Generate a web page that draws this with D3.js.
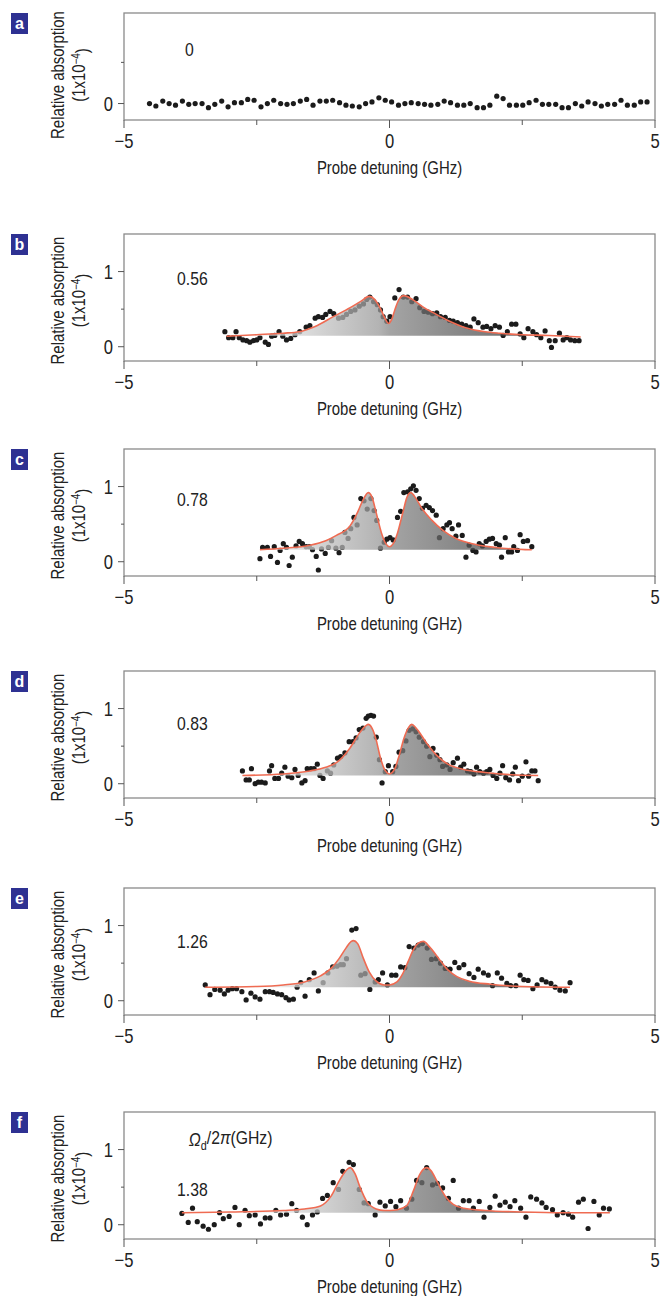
<!DOCTYPE html>
<html>
<head>
<meta charset="utf-8">
<script src="https://cdnjs.cloudflare.com/ajax/libs/d3/7.8.5/d3.min.js"></script>
<style>
  body { margin: 0; background: #fff; }
  svg { display: block; }
  text { font-family: "Liberation Sans", Arial, sans-serif; fill: #222; }
</style>
</head>
<body>
<div id="chart"></div>
<script>
// panel letters and drive Rabi frequencies (GHz)
const panelIds = ["a", "b", "c", "d", "e", "f"]
const rabiLabels = ["0", "0.56", "0.78", "0.83", "1.26", "1.38"]
const xTicks = [-5, -2.5, 0, 2.5, 5]
const xTickLabels = ["\u22125", "", "0", "", "5"]

// panel a: flat, no drive
const aDetuning = [-4.52, -4.40, -4.27, -4.15, -4.03, -3.90, -3.78, -3.66, -3.53, -3.41,
  -3.29, -3.16, -3.04, -2.92, -2.79, -2.67, -2.55, -2.42, -2.30, -2.18,
  -2.05, -1.93, -1.81, -1.68, -1.56, -1.44, -1.31, -1.19, -1.07, -0.94,
  -0.82, -0.70, -0.57, -0.45, -0.33, -0.20, -0.08, 0.04, 0.17, 0.29,
  0.41, 0.54, 0.66, 0.78, 0.91, 1.03, 1.15, 1.28, 1.40, 1.52,
  1.65, 1.77, 1.89, 2.02, 2.14, 2.26, 2.39, 2.51, 2.63, 2.76,
  2.88, 3.00, 3.13, 3.25, 3.37, 3.50, 3.62, 3.74, 3.87, 3.99,
  4.11, 4.24, 4.36, 4.48, 4.61, 4.73, 4.85]
const aAbsorption = [0.00, -0.03, 0.03, 0.00, -0.02, 0.03, -0.01, 0.00, 0.00, -0.05,
  -0.01, 0.03, -0.04, 0.01, 0.01, 0.05, 0.04, -0.04, 0.00, 0.04,
  0.00, -0.01, 0.00, 0.03, 0.05, -0.02, 0.03, 0.03, 0.04, 0.01,
  -0.02, -0.03, -0.04, 0.00, 0.02, 0.07, 0.04, 0.02, -0.02, 0.00,
  0.01, 0.00, -0.01, -0.02, -0.01, 0.03, 0.01, -0.02, -0.02, 0.00,
  -0.05, -0.05, -0.02, 0.09, 0.06, -0.02, -0.02, -0.02, 0.01, 0.04,
  -0.01, -0.01, -0.01, -0.05, -0.05, 0.00, -0.03, 0.02, 0.00, -0.03,
  -0.01, -0.01, 0.04, -0.02, -0.02, 0.02, 0.02]

// measured points [detuning GHz, absorption 1e-4]
const dataB = [[-3.10,0.20],[-3.03,0.12],[-2.95,0.12],[-2.89,0.20],[-2.83,0.12],[-2.76,0.09],[-2.69,0.08],[-2.63,0.06],[-2.56,0.08],[-2.50,0.09],
  [-2.44,0.12],[-2.34,0.06],[-2.28,0.03],[-2.22,0.14],[-2.16,0.15],[-2.08,0.20],[-2.01,0.14],[-1.94,0.09],[-1.86,0.11],[-1.78,0.16],
  [-1.69,0.20],[-1.57,0.26],[-1.50,0.28],[-1.40,0.38],[-1.34,0.40],[-1.26,0.39],[-1.20,0.43],[-1.12,0.47],[-1.05,0.44],[-0.96,0.38],
  [-0.88,0.39],[-0.81,0.43],[-0.73,0.47],[-0.65,0.49],[-0.57,0.54],[-0.49,0.57],[-0.43,0.63],[-0.37,0.66],[-0.30,0.60],[-0.23,0.56],
  [-0.17,0.49],[-0.12,0.40],[-0.05,0.34],[0.01,0.40],[0.10,0.65],[0.18,0.76],[0.26,0.66],[0.34,0.66],[0.42,0.60],[0.50,0.64],
  [0.57,0.52],[0.65,0.47],[0.73,0.46],[0.81,0.44],[0.89,0.45],[0.96,0.40],[1.05,0.39],[1.13,0.35],[1.20,0.34],[1.28,0.32],
  [1.36,0.30],[1.44,0.28],[1.52,0.26],[1.59,0.37],[1.67,0.32],[1.76,0.26],[1.83,0.27],[1.91,0.24],[1.99,0.28],[2.07,0.26],
  [2.14,0.15],[2.22,0.20],[2.30,0.30],[2.38,0.30],[2.46,0.17],[2.53,0.12],[2.61,0.24],[2.70,0.20],[2.77,0.16],[2.85,0.12],
  [2.93,0.21],[3.01,0.08],[3.05,-0.01],[3.12,0.08],[3.20,0.18],[3.27,0.09],[3.34,0.12],[3.41,0.09],[3.49,0.08],[3.57,0.08]]

const dataC = [[-2.44,0.04],[-2.39,0.19],[-2.30,0.19],[-2.24,0.07],[-2.17,0.20],[-2.11,-0.01],[-2.06,0.15],[-2.00,0.24],[-1.94,0.19],[-1.89,-0.05],
  [-1.83,0.06],[-1.76,0.21],[-1.70,0.27],[-1.64,0.24],[-1.57,0.20],[-1.51,0.20],[-1.45,0.16],[-1.38,0.07],[-1.34,-0.11],[-1.28,0.17],
  [-1.21,0.11],[-1.15,0.19],[-1.09,0.28],[-1.01,0.18],[-0.95,0.12],[-0.89,0.19],[-0.84,0.39],[-0.78,0.31],[-0.73,0.44],[-0.67,0.59],
  [-0.61,0.49],[-0.54,0.84],[-0.48,0.81],[-0.42,0.70],[-0.35,0.84],[-0.29,0.68],[-0.24,0.55],[-0.17,0.18],[-0.10,0.26],[-0.05,0.30],
  [0.01,0.32],[0.07,0.29],[0.15,0.59],[0.21,0.67],[0.27,0.92],[0.34,0.93],[0.40,0.97],[0.45,1.01],[0.50,0.95],[0.56,0.84],
  [0.62,0.71],[0.69,0.75],[0.75,0.72],[0.81,0.68],[0.88,0.62],[0.94,0.32],[1.01,0.44],[1.08,0.49],[1.13,0.52],[1.18,0.44],
  [1.25,0.34],[1.30,0.49],[1.37,0.35],[1.44,0.06],[1.50,0.22],[1.57,0.15],[1.63,0.13],[1.69,0.24],[1.75,0.21],[1.82,0.27],
  [1.88,0.30],[1.94,0.31],[2.01,0.24],[2.07,0.22],[2.11,0.06],[2.18,0.32],[2.24,0.13],[2.30,0.13],[2.34,0.20],[2.41,0.15],
  [2.46,0.36],[2.52,0.27],[2.60,0.28],[2.68,0.20]]

const dataD = [[-2.77,0.17],[-2.70,0.05],[-2.64,0.05],[-2.60,0.20],[-2.53,0.00],[-2.47,0.02],[-2.41,0.02],[-2.34,0.01],[-2.26,0.17],[-2.22,0.24],
  [-2.16,0.07],[-2.09,0.07],[-2.03,0.14],[-1.97,0.22],[-1.91,0.10],[-1.84,0.08],[-1.78,0.19],[-1.72,0.11],[-1.65,0.01],[-1.59,0.04],
  [-1.55,0.20],[-1.48,0.20],[-1.42,0.20],[-1.36,0.26],[-1.31,0.11],[-1.25,0.07],[-1.17,0.17],[-1.11,0.14],[-1.05,0.25],[-0.98,0.34],
  [-0.92,0.36],[-0.84,0.41],[-0.76,0.56],[-0.69,0.56],[-0.63,0.61],[-0.57,0.72],[-0.50,0.74],[-0.44,0.87],[-0.40,0.90],[-0.35,0.91],
  [-0.30,0.90],[-0.25,0.62],[-0.19,0.32],[-0.14,0.01],[-0.08,0.16],[-0.02,0.24],[0.06,0.16],[0.12,0.23],[0.18,0.42],[0.25,0.44],
  [0.31,0.57],[0.37,0.71],[0.44,0.73],[0.50,0.69],[0.56,0.62],[0.64,0.56],[0.70,0.50],[0.76,0.36],[0.82,0.47],[0.89,0.38],
  [0.95,0.32],[1.00,0.23],[1.08,0.25],[1.14,0.19],[1.20,0.28],[1.28,0.34],[1.34,0.22],[1.40,0.26],[1.47,0.17],[1.53,0.16],
  [1.59,0.13],[1.64,0.22],[1.70,0.16],[1.77,0.14],[1.83,0.16],[1.89,0.19],[1.95,0.11],[2.02,0.07],[2.08,0.14],[2.13,0.24],
  [2.19,0.08],[2.26,0.05],[2.32,0.13],[2.37,0.22],[2.43,0.04],[2.50,0.10],[2.57,0.29],[2.62,0.10],[2.68,0.17],[2.74,0.17],
  [2.80,0.04]]

const dataE = [[-3.47,0.21],[-3.38,0.08],[-3.29,0.15],[-3.19,0.14],[-3.11,0.09],[-3.04,0.14],[-2.96,0.16],[-2.88,0.16],[-2.78,0.12],[-2.70,0.01],
  [-2.61,0.10],[-2.53,0.05],[-2.44,0.02],[-2.34,0.12],[-2.26,0.12],[-2.19,0.11],[-2.11,0.09],[-2.03,0.08],[-1.95,0.04],[-1.89,0.01],
  [-1.81,0.02],[-1.74,0.18],[-1.67,0.24],[-1.59,0.06],[-1.51,0.28],[-1.42,0.37],[-1.34,0.13],[-1.25,0.24],[-1.16,0.37],[-1.07,0.45],
  [-0.99,0.46],[-0.92,0.48],[-0.87,0.48],[-0.81,0.56],[-0.71,0.94],[-0.63,0.96],[-0.54,0.34],[-0.46,0.36],[-0.37,0.15],[-0.27,0.25],
  [-0.21,0.28],[-0.13,0.37],[-0.04,0.21],[0.04,0.34],[0.12,0.34],[0.21,0.45],[0.29,0.44],[0.37,0.72],[0.46,0.70],[0.54,0.74],
  [0.62,0.76],[0.71,0.70],[0.79,0.55],[0.88,0.56],[0.96,0.50],[1.05,0.43],[1.14,0.42],[1.23,0.51],[1.31,0.44],[1.40,0.48],
  [1.50,0.36],[1.59,0.31],[1.67,0.42],[1.77,0.37],[1.86,0.34],[1.94,0.20],[2.03,0.37],[2.11,0.30],[2.21,0.23],[2.28,0.20],
  [2.38,0.20],[2.46,0.34],[2.53,0.28],[2.61,0.27],[2.70,0.16],[2.78,0.21],[2.87,0.28],[2.95,0.25],[3.04,0.23],[3.12,0.18],
  [3.21,0.14],[3.31,0.13],[3.40,0.24]]

const dataF = [[-3.91,0.15],[-3.79,0.03],[-3.71,0.22],[-3.62,0.04],[-3.51,-0.02],[-3.41,-0.06],[-3.30,0.00],[-3.20,0.16],[-3.13,0.08],[-3.02,0.11],
  [-2.91,0.23],[-2.83,0.00],[-2.72,0.19],[-2.64,0.12],[-2.53,0.13],[-2.43,0.01],[-2.34,0.09],[-2.25,0.09],[-2.14,0.19],[-2.05,0.13],
  [-1.94,0.14],[-1.84,0.28],[-1.75,0.19],[-1.64,0.10],[-1.55,0.00],[-1.45,0.13],[-1.36,0.17],[-1.26,0.35],[-1.17,0.39],[-1.06,0.56],
  [-0.96,0.47],[-0.88,0.71],[-0.76,0.83],[-0.68,0.80],[-0.57,0.47],[-0.48,0.29],[-0.40,0.28],[-0.27,0.13],[-0.18,0.30],[-0.08,0.25],
  [0.02,0.31],[0.12,0.24],[0.21,0.32],[0.32,0.22],[0.42,0.34],[0.51,0.59],[0.61,0.56],[0.70,0.76],[0.81,0.53],[0.90,0.55],
  [1.00,0.49],[1.11,0.35],[1.20,0.59],[1.30,0.22],[1.39,0.32],[1.50,0.32],[1.58,0.22],[1.69,0.31],[1.78,0.10],[1.89,0.23],
  [1.99,0.38],[2.08,0.26],[2.18,0.30],[2.27,0.24],[2.36,0.32],[2.47,0.22],[2.57,0.10],[2.66,0.37],[2.77,0.34],[2.87,0.29],
  [2.95,0.23],[3.07,0.20],[3.16,0.13],[3.27,0.16],[3.37,0.14],[3.45,0.10],[3.56,0.30],[3.65,0.34],[3.74,-0.05],[3.85,0.31],
  [3.95,0.13],[4.03,0.22],[4.14,0.21]]

// fitted Autler-Townes curves
const fitB = [[-3.07,0.14],[-2.5,0.16],[-2.0,0.18],[-1.7,0.20],[-1.4,0.27],[-1.06,0.40],[-0.74,0.52],[-0.55,0.60],[-0.38,0.67],[-0.28,0.63],
  [-0.18,0.52],[-0.08,0.37],[-0.02,0.31],[0.04,0.36],[0.1,0.49],[0.18,0.63],[0.27,0.68],[0.45,0.62],[0.65,0.52],[0.83,0.45],
  [1.1,0.35],[1.45,0.25],[1.8,0.20],[2.08,0.18],[2.5,0.16],[3.0,0.15],[3.6,0.13]]
const fitC = [[-2.44,0.16],[-2.0,0.18],[-1.5,0.22],[-1.2,0.28],[-1.0,0.35],[-0.74,0.48],[-0.6,0.66],[-0.5,0.82],[-0.4,0.92],[-0.33,0.86],
  [-0.25,0.65],[-0.15,0.38],[-0.07,0.24],[0.0,0.20],[0.07,0.24],[0.15,0.38],[0.25,0.65],[0.33,0.86],[0.4,0.92],[0.5,0.84],
  [0.6,0.72],[0.8,0.55],[1.0,0.42],[1.25,0.31],[1.5,0.25],[2.0,0.19],[2.68,0.16]]
const fitD = [[-2.77,0.11],[-2.0,0.13],[-1.5,0.17],[-1.2,0.22],[-1.0,0.28],[-0.75,0.47],[-0.56,0.68],[-0.45,0.77],[-0.40,0.79],[-0.33,0.74],
  [-0.25,0.58],[-0.18,0.37],[-0.1,0.20],[0.0,0.13],[0.1,0.20],[0.18,0.37],[0.27,0.60],[0.36,0.75],[0.42,0.79],[0.5,0.74],
  [0.7,0.54],[0.9,0.37],[1.1,0.26],[1.4,0.19],[1.8,0.15],[2.3,0.12],[2.8,0.11]]
const fitE = [[-3.47,0.18],[-2.5,0.19],[-2.0,0.21],[-1.6,0.25],[-1.3,0.33],[-1.1,0.43],[-0.95,0.56],[-0.82,0.70],[-0.72,0.79],[-0.68,0.80],
  [-0.6,0.76],[-0.49,0.56],[-0.38,0.38],[-0.25,0.26],[-0.1,0.21],[0.0,0.21],[0.14,0.25],[0.25,0.36],[0.35,0.52],[0.45,0.68],
  [0.55,0.77],[0.64,0.79],[0.75,0.72],[0.95,0.54],[1.1,0.41],[1.27,0.32],[1.5,0.26],[1.9,0.22],[2.5,0.19],[3.4,0.18]]
const fitF = [[-3.91,0.16],[-3.0,0.17],[-2.0,0.19],[-1.6,0.21],[-1.3,0.25],[-1.1,0.38],[-0.95,0.58],[-0.82,0.72],[-0.74,0.76],[-0.65,0.68],
  [-0.55,0.49],[-0.42,0.30],[-0.25,0.21],[-0.1,0.19],[0.01,0.19],[0.15,0.20],[0.32,0.25],[0.45,0.45],[0.55,0.64],[0.64,0.74],
  [0.70,0.76],[0.78,0.72],[0.9,0.57],[1.05,0.38],[1.2,0.27],[1.4,0.22],[1.8,0.19],[2.5,0.17],[3.3,0.16],[4.15,0.16]]
const fitBaselines = [null, 0.145, 0.16, 0.11, 0.18, 0.16]

const W = 668, H = 1296
const left = 124, right = 655
const panelTops = [13, 234, 449, 671, 888, 1112]
const squeeze = 0.83   // condensed look of the original type

const svg = d3.select("#chart").append("svg")
  .attr("width", W)
  .attr("height", H)

const x = d3.scaleLinear().domain([-5, 5]).range([left, right])

const defs = svg.append("defs")

const allData = [d3.zip(aDetuning, aAbsorption), dataB, dataC, dataD, dataE, dataF]
const allFits = [null, fitB, fitC, fitD, fitE, fitF]

function addText(parent, tx, ty, str, size, anchor, rotate) {
  return parent.append("text")
    .attr("transform", `translate(${tx},${ty})` + (rotate ? " rotate(-90)" : "") + ` scale(${squeeze},1)`)
    .attr("text-anchor", anchor || "start")
    .style("font-size", size + "px")
    .text(str)
}

panelIds.forEach((id, i) => {
  const top = panelTops[i]
  const isA = i == 0
  const bottom = isA ? 120 : top + 127
  const y = d3.scaleLinear()
    .domain(isA ? [-0.2, 1.1] : [-0.19, 1.5])
    .range([bottom, top])
  const g = svg.append("g")

  // badge
  g.append("rect")
    .attr("x", 11).attr("y", top)
    .attr("width", 17).attr("height", 21)
    .attr("fill", "#2e3192")
  g.append("text")
    .attr("x", 19.5).attr("y", top + 16)
    .attr("text-anchor", "middle")
    .style("font-weight", "bold")
    .style("font-size", "16px")
    .style("fill", "#fff")
    .text(id)

  // y-axis title
  const cy = isA ? 75 : (top + bottom) / 2 + 3
  addText(g, 64, cy, "Relative absorption", 18, "middle", true)
  const unit = addText(g, 85, cy, "", 18, "middle", true)
  unit.append("tspan").text("(1x10")
  unit.append("tspan").attr("dy", "-0.45em").style("font-size", "12px").text("\u22124")
  unit.append("tspan").attr("dy", "0.45em").text(")")

  // dots first, fill goes over them
  g.append("g").selectAll("circle")
    .data(allData[i])
    .join("circle")
    .attr("cx", d => x(d[0]))
    .attr("cy", d => y(d[1]))
    .attr("r", 2.6)
    .attr("fill", "#1b1b1b")

  const fit = allFits[i]
  if (fit) {
    const base = fitBaselines[i]
    const grad = defs.append("linearGradient")
      .attr("id", "grad-" + id)
      .attr("gradientUnits", "userSpaceOnUse")
      .attr("x1", x(-2.6)).attr("x2", x(2.4))
      .attr("y1", 0).attr("y2", 0)
    grad.append("stop").attr("offset", 0).attr("stop-color", "#f6f6f6")
    grad.append("stop").attr("offset", 0.48).attr("stop-color", "#999")
    grad.append("stop").attr("offset", 0.52).attr("stop-color", "#858585")
    grad.append("stop").attr("offset", 1).attr("stop-color", "#3e3e3e")

    const area = d3.area()
      .x(d => x(d[0]))
      .y0(y(base))
      .y1(d => y(Math.max(base, d[1])))
      .curve(d3.curveMonotoneX)
    g.append("path")
      .datum(fit)
      .attr("d", area)
      .attr("fill", `url(#grad-${id})`)
      .attr("fill-opacity", 0.74)

    const line = d3.line()
      .x(d => x(d[0]))
      .y(d => y(d[1]))
      .curve(d3.curveMonotoneX)
    g.append("path")
      .datum(fit)
      .attr("d", line)
      .attr("fill", "none")
      .attr("stroke", "#ef6b52")
      .attr("stroke-width", 1.6)
  }

  // frame
  g.append("rect")
    .attr("x", left).attr("y", top)
    .attr("width", right - left).attr("height", bottom - top)
    .attr("fill", "none")
    .attr("stroke", "#8a8a8a")
    .attr("stroke-width", 1.3)

  // x ticks
  const xAxis = g.append("g")
  xAxis.selectAll("line")
    .data(xTicks)
    .join("line")
    .attr("x1", d => x(d)).attr("x2", d => x(d))
    .attr("y1", bottom)
    .attr("y2", (d, k) => bottom + (xTickLabels[k] ? 8 : 5))
    .attr("stroke", "#555")
  xAxis.selectAll("text")
    .data(xTicks)
    .join("text")
    .attr("transform", d => `translate(${x(d)},${bottom + 28}) scale(${squeeze},1)`)
    .attr("text-anchor", "middle")
    .style("font-size", "20px")
    .text((d, k) => xTickLabels[k])
  addText(g, x(0), bottom + 54, "Probe detuning (GHz)", 18, "middle")

  // y ticks
  const yTicks = isA ? [0, 0.5] : [0, 0.5, 1]
  const yAxis = g.append("g")
  yAxis.selectAll("line")
    .data(yTicks)
    .join("line")
    .attr("x1", left)
    .attr("x2", d => left - (d == 0.5 ? 3 : 6))
    .attr("y1", d => y(d)).attr("y2", d => y(d))
    .attr("stroke", "#555")
  yAxis.selectAll("text")
    .data(yTicks.filter(d => d != 0.5))
    .join("text")
    .attr("transform", d => `translate(${left - 11},${y(d) + 7}) scale(${squeeze},1)`)
    .attr("text-anchor", "end")
    .style("font-size", "20px")
    .text(d => d3.format("d")(d))

  // drive strength label
  const labelY = [0.66, 0.92, 0.84, 0.81, 0.80, 0.48][i]
  addText(g, isA ? x(-3.85) : x(-4.0), y(labelY) + 7, rabiLabels[i], 19)

  if (id == "f") {
    const om = addText(g, x(-3.78), y(1.14) + 7, "", 19)
    om.append("tspan").style("font-style", "italic").text("\u03a9")
    om.append("tspan").attr("dy", "0.3em").style("font-size", "13px").text("d")
    om.append("tspan").attr("dy", "-0.3em").text("/2")
    om.append("tspan").style("font-style", "italic").text("\u03c0")
    om.append("tspan").text("(GHz)")
  }
})
</script>
</body>
</html>
